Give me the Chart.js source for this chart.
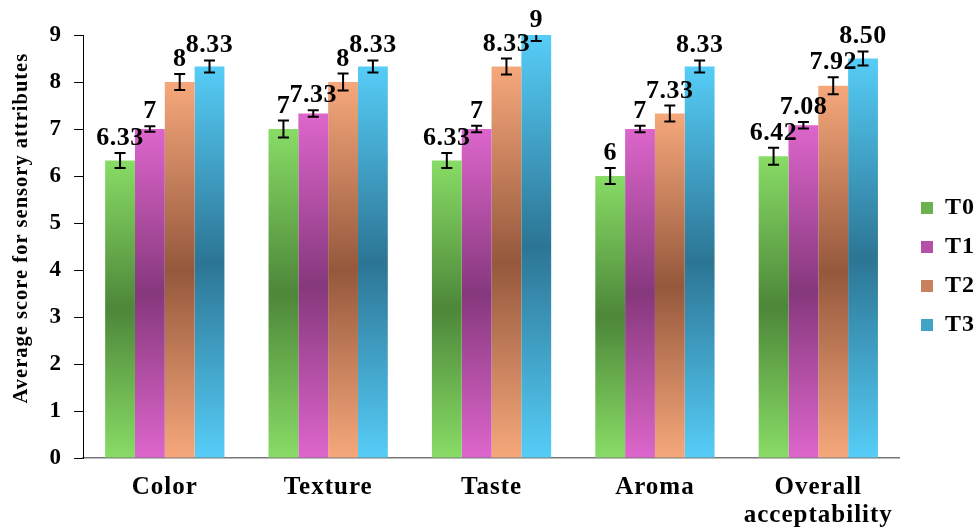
<!DOCTYPE html>
<html>
<head>
<meta charset="utf-8">
<script src="https://cdn.jsdelivr.net/npm/chart.js@4.4.1/dist/chart.umd.min.js"></script>
<style>
  html, body { margin: 0; padding: 0; background: #fff; }
  #wrap { width: 979px; height: 529px; }
</style>
</head>
<body>
<div id="wrap"><canvas id="sensoryChart"></canvas></div>
<script>
// categories and series
const categories = ['Color', 'Texture', 'Taste', 'Aroma', ['Overall', 'acceptability']];
const seriesNames = ['T0', 'T1', 'T2', 'T3'];

const t0Values = [6.33, 7, 6.33, 6, 6.42];
const t1Values = [7, 7.33, 7, 7, 7.08];
const t2Values = [8, 8, 8.33, 7.33, 7.92];
const t3Values = [8.33, 8.33, 9, 8.33, 8.50];

// error bar half lengths
const t0Errors = [0.16, 0.18, 0.16, 0.17, 0.18];
const t1Errors = [0.06, 0.07, 0.07, 0.07, 0.07];
const t2Errors = [0.17, 0.18, 0.17, 0.17, 0.18];
const t3Errors = [0.13, 0.13, 0.13, 0.13, 0.15];

// value labels as printed above the bars
const t0Labels = ['6.33', '7', '6.33', '6', '6.42'];
const t1Labels = ['7', '7.33', '7', '7', '7.08'];
const t2Labels = ['8', '8', '8.33', '7.33', '7.92'];
const t3Labels = ['8.33', '8.33', '9', '8.33', '8.50'];

const yMin = 0;
const yMax = 9;
const yStep = 1;

const errorSets = [t0Errors, t1Errors, t2Errors, t3Errors];
const labelSets = [t0Labels, t1Labels, t2Labels, t3Labels];

const serif = '"Liberation Serif", "Times New Roman", serif';

// light ends / dark middle, like the original shaded bars
const lightColors = ['#88dc66', '#dd66cc', '#f6a87b', '#56cdf7'];
const darkColors = ['#4d8739', '#86387c', '#95583c', '#2c7594'];
const legendColors = ['#6cb350', '#b450a5', '#c9805c', '#42a3c8'];

function barGradient(light, dark) {
  return function (context) {
    const chart = context.chart;
    const y = chart.scales.y;
    if (!chart.chartArea || !y || context.raw === undefined) {
      return light;
    }
    const top = y.getPixelForValue(context.raw);
    const base = y.getPixelForValue(0);
    const g = chart.ctx.createLinearGradient(0, top, 0, base);
    g.addColorStop(0, light);
    g.addColorStop(0.5, dark);
    g.addColorStop(1, light);
    return g;
  };
}

// Times-like text in the original is spaced out a bit
const spacingPlugin = {
  id: 'spacing',
  beforeLayout(chart) { chart.ctx.letterSpacing = '1px'; },
  afterLayout(chart) {
    // legend sits a little below the middle of the plot and further right
    const lg = chart.legend;
    const area = chart.chartArea;
    const shift = (area.top + area.bottom) / 2 + 20 - (lg.top + lg.bottom) / 2;
    lg.top += shift;
    lg.bottom += shift;
    lg.left += 6;
    lg.right += 6;
  },
  beforeDraw(chart) { chart.ctx.letterSpacing = '1px'; }
};

const errorBarsAndLabels = {
  id: 'errorBarsAndLabels',
  afterDatasetsDraw(chart) {
    const ctx = chart.ctx;
    const y = chart.scales.y;
    const area = chart.chartArea;
    chart.data.datasets.forEach((ds, di) => {
      const meta = chart.getDatasetMeta(di);
      meta.data.forEach((bar, i) => {
        const v = ds.data[i];
        const e = errorSets[di][i];
        const hi = y.getPixelForValue(v + e);
        const lo = y.getPixelForValue(v - e);
        const x = bar.x;

        // error bar, clipped to the plot area
        ctx.save();
        ctx.beginPath();
        ctx.rect(area.left, area.top, area.right - area.left, area.bottom - area.top);
        ctx.clip();
        ctx.strokeStyle = '#000';
        ctx.lineWidth = 2;
        ctx.beginPath();
        ctx.moveTo(x, hi); ctx.lineTo(x, lo);
        ctx.moveTo(x - 5.5, hi); ctx.lineTo(x + 5.5, hi);
        ctx.moveTo(x - 5.5, lo); ctx.lineTo(x + 5.5, lo);
        ctx.stroke();
        ctx.restore();

        // value label
        ctx.save();
        ctx.font = 'bold 26px ' + serif;
        ctx.letterSpacing = '0.5px';
        ctx.fillStyle = '#000';
        ctx.textAlign = 'center';
        ctx.textBaseline = 'alphabetic';
        ctx.fillText(labelSets[di][i], x, Math.max(hi, area.top) - 8);
        ctx.restore();
      });
    });
  }
};

const values = [t0Values, t1Values, t2Values, t3Values];

const ctx = document.getElementById('sensoryChart').getContext('2d');
const sensoryChart = new Chart(ctx, {
  type: 'bar',
  data: {
    labels: categories,
    datasets: seriesNames.map((name, i) => ({
      label: name,
      data: values[i],
      backgroundColor: barGradient(lightColors[i], darkColors[i]),
      borderWidth: 0,
      barPercentage: 1,
      categoryPercentage: 0.73
    }))
  },
  options: {
    responsive: true,
    maintainAspectRatio: false,
    animation: false,
    layout: {
      padding: { top: 35, right: 0, bottom: -17, left: 5 }
    },
    plugins: {
      tooltip: { enabled: false },
      legend: {
        position: 'right',
        align: 'center',
        labels: {
          boxWidth: 12,
          boxHeight: 12,
          padding: 15,
          color: '#000',
          font: { family: serif, size: 24, weight: 'bold' },
          generateLabels: () => seriesNames.map((name, i) => ({
            text: name,
            fillStyle: legendColors[i],
            strokeStyle: legendColors[i],
            lineWidth: 0,
            hidden: false,
            datasetIndex: i
          }))
        }
      }
    },
    scales: {
      x: {
        grid: { display: false, drawTicks: false },
        border: { color: '#777', width: 1.5 },
        ticks: {
          color: '#000',
          padding: 16,
          maxRotation: 0,
          autoSkip: false,
          font: { family: serif, size: 25, weight: 'bold', lineHeight: 1.12 }
        }
      },
      y: {
        min: yMin,
        max: yMax,
        ticks: {
          stepSize: yStep,
          color: '#000',
          padding: 12,
          font: { family: serif, size: 23, weight: 'bold' }
        },
        grid: { drawOnChartArea: false, drawTicks: true, tickLength: 9, color: '#000' },
        border: { color: '#000', width: 1 },
        title: {
          display: true,
          // leading spaces lift the centred text a little, as in the original
          text: '      Average score for sensory attributes',
          color: '#000',
          padding: 4,
          font: { family: serif, size: 20.5, weight: 'bold' }
        }
      }
    }
  },
  plugins: [spacingPlugin, errorBarsAndLabels]
});
</script>
</body>
</html>
